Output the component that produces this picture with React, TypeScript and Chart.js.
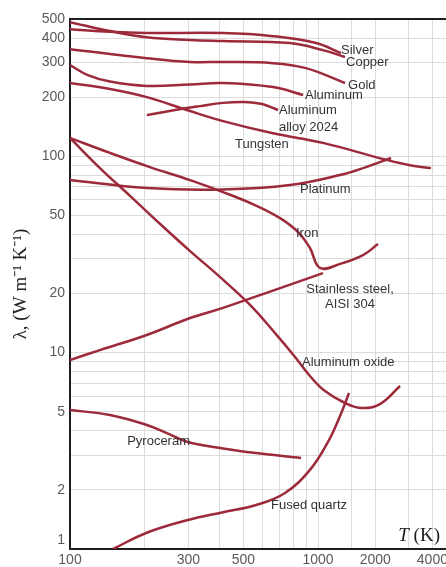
import React, { useEffect, useRef } from "react";
import { Chart, registerables } from "chart.js";

Chart.register(...registerables);

// ---------- data (T in K, conductivity in W m^-1 K^-1) ----------
const SILVER_T = [100, 145, 204, 414, 658, 982, 1321];
const SILVER_K = [444, 430, 424, 424, 409, 377, 335];

const COPPER_T = [100, 145, 204, 305, 414, 771, 1062, 1387];
const COPPER_K = [482, 434, 404, 391, 386, 377, 347, 320];

const GOLD_T = [100, 204, 305, 414, 658, 894, 1387];
const GOLD_K = [351, 316, 302, 302, 298, 281, 236];

const ALUMINUM_T = [100, 118, 145, 204, 305, 414, 658, 871];
const ALUMINUM_K = [291, 259, 240, 228, 232, 236, 225, 205];

const ALLOY_T = [204, 265, 334, 414, 508, 595, 690];
const ALLOY_K = [162, 172, 180, 187, 189, 184.5, 172];

const TUNGSTEN_T = [100, 145, 204, 296, 414, 658, 1062, 2280, 3050, 3933];
const TUNGSTEN_K = [236, 220, 200, 172, 151, 131, 117, 96, 90, 87];

const PLATINUM_T = [100, 204, 414, 771, 1306, 1789, 2423];
const PLATINUM_K = [75.7, 68.9, 67.7, 71.3, 80.2, 88.1, 98];

const IRON_T = [100, 145, 210, 305, 414, 557, 703, 831, 928, 1024, 1306, 1725, 2070];
const IRON_K = [124, 104, 88.1, 75.6, 65.7, 56.4, 48.4, 41.1, 34.1, 27.0, 28.3, 31.4, 35.7];

const STAINLESS_T = [100, 132, 204, 305, 414, 658, 1062];
const STAINLESS_K = [9.17, 10.3, 12.3, 15.0, 16.9, 20.7, 25.4];

const OXIDE_T = [100, 132, 175, 231, 305, 402, 532, 670, 808, 928, 1088, 1387, 1704, 2119, 2703];
const OXIDE_K = [124, 87.1, 62.7, 45.2, 32.9, 24.3, 17.5, 12.6, 9.5, 7.6, 6.37, 5.54, 5.22, 5.47, 6.76];

const PYROCERAM_T = [100, 145, 204, 250, 296, 414, 563, 854];
const PYROCERAM_K = [5.1, 4.81, 4.28, 3.86, 3.52, 3.25, 3.08, 2.91];

const QUARTZ_T = [149, 204, 296, 414, 563, 736, 928, 1129, 1306, 1456];
const QUARTZ_K = [1.0, 1.21, 1.4, 1.54, 1.675, 1.93, 2.53, 3.51, 4.76, 6.23];

// ---------- axes ----------
const X_GRID = [100, 200, 300, 400, 500, 600, 700, 800, 900, 1000, 1500, 2000, 3000, 4000];
const X_TICK_LABELS = [100, 300, 500, 1000, 2000, 4000];
const Y_GRID = [1, 2, 3, 4, 5, 6, 7, 8, 9, 10, 20, 30, 40, 50, 60, 70, 80, 90, 100, 200, 300, 400, 500];
const Y_TICK_LABELS = [1, 2, 5, 10, 20, 50, 100, 200, 300, 400, 500];
const T_MIN = 100;
const T_MAX = 4717;
const K_MIN = 1;
const K_MAX = 500;
// the temperature axis is compressed above 1000 K in the source figure
const UPPER_RATIO = 0.766;

// ---------- curve labels (text, T, conductivity, alignment) ----------
const LABEL_TEXT = [
  "Silver", "Copper", "Gold", "Aluminum", "Aluminum", "alloy 2024", "Tungsten",
  "Platinum", "Iron", "Stainless steel,", "AISI 304", "Aluminum oxide", "Pyroceram", "Fused quartz",
];
const LABEL_T = [1321, 1404, 1439, 886, 696, 696, 463, 846, 815, 1474, 1474, 862, 170, 647];
const LABEL_K = [347, 302, 230, 203, 172, 141, 115, 68.1, 40.6, 21.1, 17.5, 8.96, 3.55, 1.66];
const LABEL_ALIGN = [
  "left", "left", "left", "left", "left", "left", "left",
  "left", "left", "center", "center", "left", "left", "left",
];

const LINE_COLOR = "#9d2a3b";
const SANS = '"Liberation Sans", Arial, sans-serif';
const SERIF = '"Liberation Serif", "Times New Roman", serif';

function warp(T: number): number {
  const L = Math.log10(T);
  return L <= 3 ? L - 2 : 1 + (L - 3) * UPPER_RATIO;
}

const SERIES: { t: number[]; k: number[] }[] = [
  { t: SILVER_T, k: SILVER_K },
  { t: COPPER_T, k: COPPER_K },
  { t: GOLD_T, k: GOLD_K },
  { t: ALUMINUM_T, k: ALUMINUM_K },
  { t: ALLOY_T, k: ALLOY_K },
  { t: TUNGSTEN_T, k: TUNGSTEN_K },
  { t: PLATINUM_T, k: PLATINUM_K },
  { t: IRON_T, k: IRON_K },
  { t: STAINLESS_T, k: STAINLESS_K },
  { t: OXIDE_T, k: OXIDE_K },
  { t: PYROCERAM_T, k: PYROCERAM_K },
  { t: QUARTZ_T, k: QUARTZ_K },
];

const overlayPlugin = {
  id: "overlay",
  afterDatasetsDraw(chart: any) {
    const { ctx, chartArea, scales } = chart;
    const xs = scales.x;
    const ys = scales.y;
    ctx.save();
    // top frame line
    ctx.strokeStyle = "#1e1e1e";
    ctx.lineWidth = 2;
    ctx.beginPath();
    ctx.moveTo(chartArea.left - 1, chartArea.top);
    ctx.lineTo(chartArea.right, chartArea.top);
    ctx.stroke();

    // curve labels
    ctx.font = `13px ${SANS}`;
    ctx.fillStyle = "#333333";
    ctx.textBaseline = "middle";
    LABEL_TEXT.forEach((txt, i) => {
      ctx.textAlign = LABEL_ALIGN[i] as CanvasTextAlign;
      const px = xs.getPixelForValue(warp(LABEL_T[i]));
      const py = ys.getPixelForValue(LABEL_K[i]);
      ctx.fillText(txt, px, py);
    });

    // x axis title inside plot: T (K)
    ctx.fillStyle = "#1e1e1e";
    ctx.textBaseline = "alphabetic";
    ctx.textAlign = "left";
    ctx.font = `19px ${SERIF}`;
    const rest = " (K)";
    const wRest = ctx.measureText(rest).width;
    ctx.font = `italic 19px ${SERIF}`;
    const wT = ctx.measureText("T").width;
    const right = chartArea.right - 6;
    const base = chartArea.bottom - 8;
    ctx.fillText("T", right - wRest - wT, base);
    ctx.font = `19px ${SERIF}`;
    ctx.fillText(rest, right - wRest, base);
    ctx.restore();
  },
};

export default function App() {
  const ref = useRef<HTMLCanvasElement | null>(null);

  useEffect(() => {
    if (!ref.current) return;
    Chart.defaults.font.family = SANS;
    const datasets = SERIES.map((s) => ({
      data: s.t.map((T, i) => ({ x: warp(T), y: s.k[i] })),
      borderColor: LINE_COLOR,
      backgroundColor: LINE_COLOR,
      borderWidth: 2.5,
      pointRadius: 0,
      fill: false,
      tension: 0.4,
    }));

    const chart = new Chart(ref.current, {
      type: "line",
      data: { datasets },
      options: {
        animation: false,
        responsive: false,
        layout: { padding: { top: 19, left: 0, right: 0, bottom: 0 } },
        plugins: { legend: { display: false }, tooltip: { enabled: false } },
        scales: {
          x: {
            type: "linear",
            min: warp(T_MIN),
            max: warp(T_MAX),
            afterBuildTicks: (s: any) => {
              s.ticks = X_GRID.map((t) => ({ value: warp(t) }));
            },
            afterFit: (s: any) => {
              s.height = 18;
              s.paddingLeft = 0;
              s.paddingRight = 0;
            },
            ticks: {
              autoSkip: false,
              maxRotation: 0,
              padding: 3,
              color: "#5a5a5a",
              font: { family: SANS, size: 14 },
              callback: (_v: any, i: number) =>
                X_TICK_LABELS.includes(X_GRID[i]) ? String(X_GRID[i]) : "",
            },
            grid: { color: "#dcdcdc", lineWidth: 1, drawTicks: false },
            border: { color: "#1e1e1e", width: 2 },
          },
          y: {
            type: "logarithmic",
            min: K_MIN,
            max: K_MAX,
            afterBuildTicks: (s: any) => {
              s.ticks = Y_GRID.map((v) => ({ value: v }));
            },
            afterFit: (s: any) => {
              s.width = 70;
              s.paddingTop = 0;
              s.paddingBottom = 0;
            },
            ticks: {
              autoSkip: false,
              padding: 5,
              color: "#5a5a5a",
              font: { family: SANS, size: 14 },
              callback: (_v: any, i: number) => {
                const v = Y_GRID[i];
                if (!Y_TICK_LABELS.includes(v)) return "";
                return v === 1 ? ["1", ""] : String(v);
              },
            },
            grid: { color: "#dcdcdc", lineWidth: 1, drawTicks: false },
            border: { color: "#1e1e1e", width: 2 },
            title: {
              display: true,
              text: "λ, (W m⁻¹ K⁻¹)",
              color: "#222222",
              font: { family: SERIF, size: 19 },
              padding: { top: 10, bottom: 0 },
            },
          },
        },
      } as any,
      plugins: [overlayPlugin],
    });
    return () => chart.destroy();
  }, []);

  return (
    <div
      style={{
        position: "absolute",
        left: 0,
        top: 0,
        width: 446,
        height: 567,
        overflow: "hidden",
        background: "#ffffff",
      }}
    >
      <canvas ref={ref} width={446} height={567} style={{ display: "block" }} />
    </div>
  );
}
